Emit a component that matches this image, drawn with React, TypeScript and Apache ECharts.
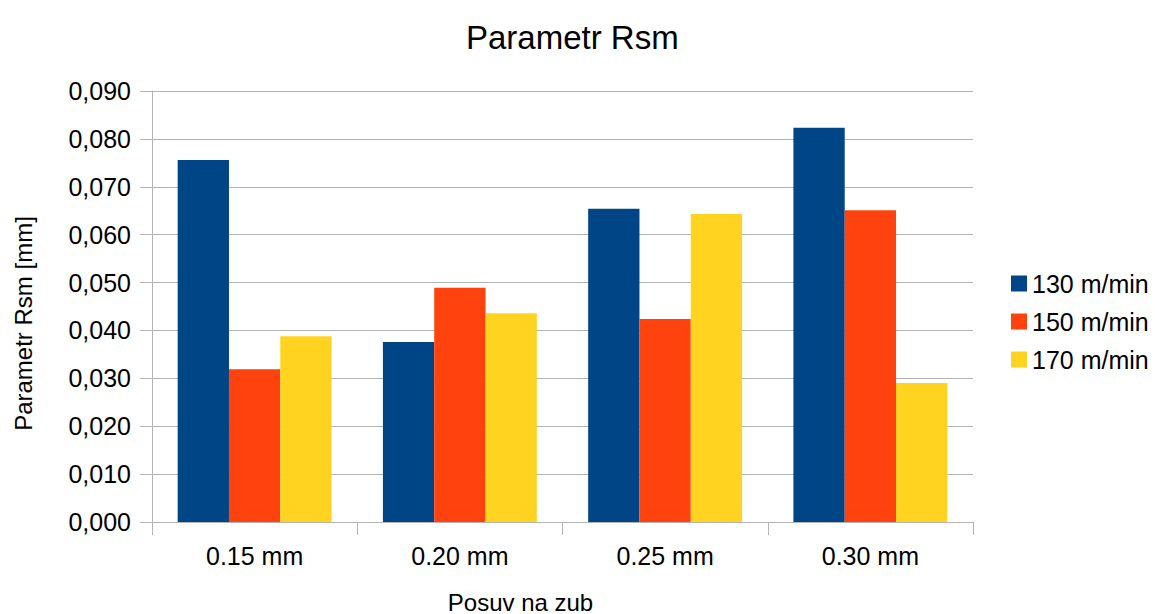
import React, { useEffect, useRef } from "react";
import * as echarts from "echarts";

const categories = ["0.15 mm", "0.20 mm", "0.25 mm", "0.30 mm"];
const seriesNames = ["130 m/min", "150 m/min", "170 m/min"];
const values130 = [0.0756, 0.0376, 0.0654, 0.0823];
const values150 = [0.0319, 0.0489, 0.0424, 0.0651];
const values170 = [0.0388, 0.0436, 0.0643, 0.029];
const colors = ["#004586", "#ff420e", "#ffd320"];

const FONT = "'Liberation Sans', Arial, sans-serif";

export default function App() {
  const ref = useRef<HTMLDivElement>(null);

  useEffect(() => {
    if (!ref.current) return;
    const chart = echarts.init(ref.current, undefined, { renderer: "svg" });
    const data = [values130, values150, values170];
    chart.setOption({
      animation: false,
      backgroundColor: "#ffffff",
      textStyle: { fontFamily: FONT },
      title: {
        text: "Parametr Rsm",
        left: 461,
        top: 16,
        textStyle: { fontFamily: FONT, fontSize: 33, fontWeight: "normal", color: "#000" },
      },
      legend: {
        orient: "vertical",
        left: 1006,
        top: 266,
        itemWidth: 16,
        itemHeight: 16,
        itemGap: 13,
        icon: "rect",
        textStyle: { fontFamily: FONT, fontSize: 25, color: "#000" },
        data: seriesNames,
      },
      grid: {
        left: 152,
        right: 182,
        top: 91,
        bottom: 92,
        containLabel: false,
        outerBoundsMode: "none",
      },
      xAxis: {
        type: "category",
        data: categories,
        name: "Posuv na zub",
        nameLocation: "middle",
        nameGap: 68,
        nameTextStyle: { fontFamily: FONT, fontSize: 24, color: "#000", padding: [0, 84, 0, 0] },
        axisLine: { lineStyle: { color: "#b3b3b3" } },
        axisTick: { show: true, length: 13, lineStyle: { color: "#b3b3b3" } },
        axisLabel: { fontFamily: FONT, fontSize: 25, color: "#000", margin: 21 },
      },
      yAxis: {
        type: "value",
        min: 0,
        max: 0.09,
        interval: 0.01,
        name: "Parametr Rsm [mm]",
        nameLocation: "middle",
        nameGap: 117,
        nameTextStyle: { fontFamily: FONT, fontSize: 24, color: "#000", padding: [0, 34, 0, 0] },
        axisLine: { show: true, lineStyle: { color: "#b3b3b3" } },
        axisTick: { show: true, length: 12, lineStyle: { color: "#b3b3b3" } },
        axisLabel: {
          fontFamily: FONT,
          fontSize: 25,
          color: "#000",
          margin: 21,
          formatter: (v: number) => v.toFixed(3).replace(".", ","),
        },
        splitLine: { lineStyle: { color: "#b3b3b3" } },
      },
      series: seriesNames.map((name, i) => ({
        name,
        type: "bar",
        data: data[i],
        barGap: "0%",
        barCategoryGap: "25%",
        itemStyle: { color: colors[i] },
      })),
    });
    return () => chart.dispose();
  }, []);

  return <div ref={ref} style={{ width: 1155, height: 614, position: "absolute", left: 0, top: 0 }} />;
}
